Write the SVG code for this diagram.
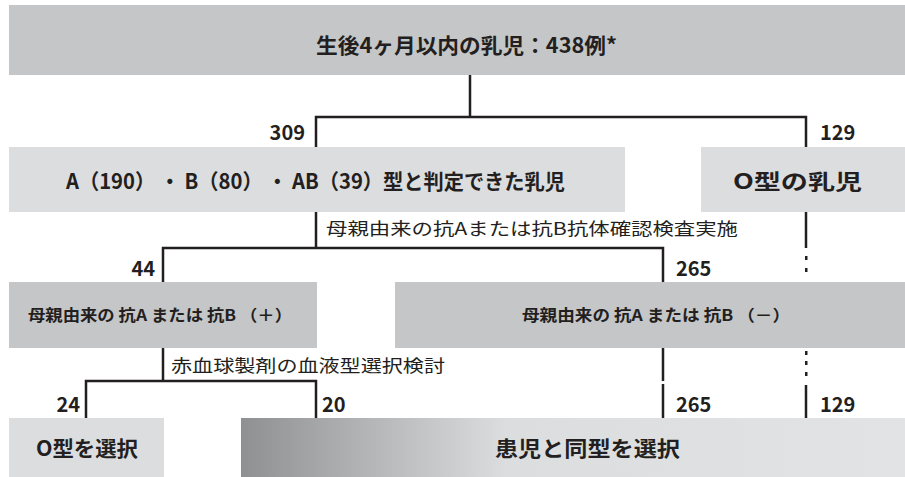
<svg xmlns="http://www.w3.org/2000/svg" width="905" height="477" viewBox="0 0 905 477">
<defs>
<linearGradient id="g7" x1="0" y1="0" x2="1" y2="0">
<stop offset="0" stop-color="#8f9092"/>
<stop offset="0.4" stop-color="#dcdddf"/>
<stop offset="1" stop-color="#e2e3e5"/>
</linearGradient>
<style>
.dk{fill:#c5c6c8}
.lt{fill:#dcdddf}
.t{font-family:"Liberation Sans Narrow","Noto Sans CJK JP","Liberation Sans",sans-serif;font-weight:bold;fill:#231f20}
.n{font-family:"Noto Sans CJK JP","Liberation Sans",sans-serif;font-weight:normal;fill:#231f20}
.c{stroke:#231f20;stroke-width:2.5;fill:none}
.d{fill:#231f20}
</style>
</defs>
<rect width="905" height="477" fill="#ffffff"/>
<g id="n-root"><rect class="dk" x="9" y="5" width="896" height="70"/>
<text class="t" x="316" y="53" font-size="21" textLength="301" lengthAdjust="spacingAndGlyphs">生後4ヶ月以内の乳児：438例*</text></g>
<g id="n-abab"><rect class="lt" x="9" y="147" width="616" height="65"/>
<text class="t" x="66" y="189" font-size="21" textLength="499" lengthAdjust="spacingAndGlyphs">A（190） ・ B（80） ・ AB（39）型と判定できた乳児</text></g>
<g id="n-o"><rect class="lt" x="701" y="147" width="204" height="65"/>
<text class="t" x="733" y="189" font-size="21" textLength="129" lengthAdjust="spacingAndGlyphs">O型の乳児</text></g>
<g id="n-pos"><rect class="dk" x="9" y="282" width="308" height="66"/>
<text class="t" x="28" y="321" font-size="16" textLength="264" lengthAdjust="spacingAndGlyphs">母親由来の 抗A または 抗B （＋）</text></g>
<g id="n-neg"><rect class="dk" x="395" y="282" width="510" height="66"/>
<text class="t" x="522" y="321" font-size="16" textLength="268" lengthAdjust="spacingAndGlyphs">母親由来の 抗A または 抗B （－）</text></g>
<g id="n-osel"><rect class="lt" x="9" y="418" width="155" height="59"/>
<text class="t" x="36" y="456" font-size="21" textLength="102" lengthAdjust="spacingAndGlyphs">O型を選択</text></g>
<g id="n-same"><rect fill="url(#g7)" x="241" y="418" width="664" height="59"/>
<text class="t" x="495" y="456" font-size="21" textLength="185" lengthAdjust="spacingAndGlyphs">患児と同型を選択</text></g>
<g id="connectors">
<path class="c" d="M470 75V117M316 147V117H806V147"/>
<path class="c" d="M316 212V248M163 282V248H663V282"/>
<path class="c" d="M806 212V248"/>
<rect class="d" x="805" y="256" width="2.5" height="4"/>
<rect class="d" x="805" y="268" width="2.5" height="4"/>
<rect class="d" x="805" y="351" width="2.5" height="4"/>
<rect class="d" x="805" y="361" width="2.5" height="4"/>
<rect class="d" x="805" y="372" width="2.5" height="4"/>
<path class="c" d="M806 385V418"/>
<path class="c" d="M163 348V381M86 418V381H316V418"/>
<path class="c" d="M663 348V381M663 384V418"/>
</g>
<g id="labels">
<text class="t" x="305" y="140" font-size="20" text-anchor="end">309</text>
<text class="t" x="820" y="140" font-size="20">129</text>
<text class="n" x="326" y="235" font-size="17" textLength="412" lengthAdjust="spacingAndGlyphs">母親由来の抗Aまたは抗B抗体確認検査実施</text>
<text class="t" x="155" y="276" font-size="20" text-anchor="end">44</text>
<text class="t" x="676" y="276" font-size="20">265</text>
<text class="n" x="171" y="372" font-size="17" textLength="274" lengthAdjust="spacingAndGlyphs">赤血球製剤の血液型選択検討</text>
<text class="t" x="80" y="412" font-size="20" text-anchor="end">24</text>
<text class="t" x="322" y="412" font-size="20">20</text>
<text class="t" x="676" y="412" font-size="20">265</text>
<text class="t" x="820" y="412" font-size="20">129</text>
</g>
</svg>
